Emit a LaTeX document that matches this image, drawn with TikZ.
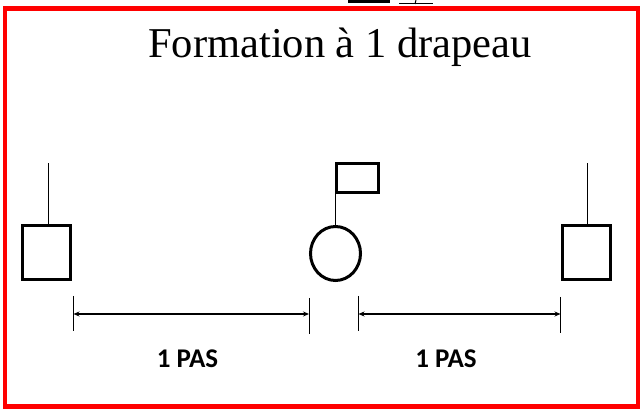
\documentclass[tikz,border=0pt]{standalone}
\usepackage{fontspec}
\setmainfont{Liberation Serif}
\newfontfamily\calibrifont{Carlito}
\usetikzlibrary{shapes.geometric,arrows.meta}
\begin{document}
\begin{tikzpicture}[x=1pt,y=-1pt,
  person/.style={draw,line width=3pt,inner sep=0pt,minimum width=48pt,minimum height=54pt},
  flagbox/.style={draw,line width=3pt,inner sep=0pt,minimum width=42pt,minimum height=29pt},
  pole/.style={line width=1pt},
  tick/.style={line width=1pt},
  dim/.style={line width=1.2pt,{Stealth[length=6pt,width=5pt]}-{Stealth[length=6pt,width=5pt]}},
  lbl/.style={font=\calibrifont\bfseries\fontsize{27}{30}\selectfont,inner sep=0pt}]
\useasboundingbox (0,0) rectangle (641,409);
\fill[white] (0,0) rectangle (641,409);
% cut-off marks at top
\fill[black] (348,0) rectangle (390,3.5);
\draw[line width=1pt] (399,4) -- (433,4);
\draw[line width=1pt] (415,4) -- (416,0);
% frame
\draw[red,line width=4.5pt] (5,8.5) rectangle (638,406.5);
% title
\node[font=\fontsize{42.5}{46}\selectfont,inner sep=0pt,anchor=base] (title) at (340,57.5) {Formation à 1 drapeau};
% persons
\node[person] (p1) at (46.5,252.5) {};
\node[person] (p3) at (586,252.5) {};
\node[draw,ellipse,line width=3pt,inner sep=0pt,minimum width=50pt,minimum height=54pt] (ell) at (335.5,253.5) {};
\node[flagbox] (flag) at (357,178) {};
% poles
\coordinate (t1) at (48,163);
\coordinate (t3) at (587,163);
\draw[pole] (p1.north -| t1) -- (t1);
\draw[pole] (p3.north -| t3) -- (t3);
\draw[pole] (ell.north) -- (ell.north |- flag.south);
% ticks
\coordinate (a1) at (73.5,296); \coordinate (a2) at (73.5,331);
\coordinate (b1) at (309,298); \coordinate (b2) at (309,334);
\coordinate (c1) at (358.5,296); \coordinate (c2) at (358.5,331);
\coordinate (d1) at (560.5,297); \coordinate (d2) at (560.5,333);
\draw[tick] (a1) -- (a2);
\draw[tick] (b1) -- (b2);
\draw[tick] (c1) -- (c2);
\draw[tick] (d1) -- (d2);
% dimension arrows
\coordinate (l1) at (73.5,314); \coordinate (l2) at (309,314);
\coordinate (r1) at (358.5,314); \coordinate (r2) at (560.5,314);
\draw[dim] (l1) -- (l2);
\draw[dim] (r1) -- (r2);
% labels
\node[lbl] (pas1) at (187.5,359) {1 PAS};
\node[lbl] (pas2) at (446,359) {1 PAS};
\end{tikzpicture}
\end{document}
